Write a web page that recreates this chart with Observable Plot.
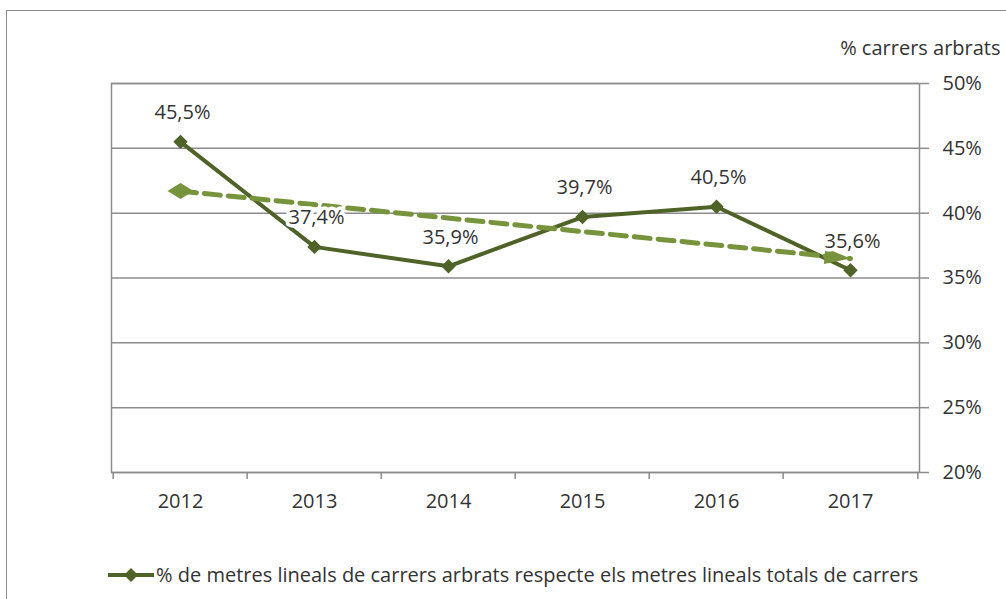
<!DOCTYPE html>
<html>
<head>
<meta charset="utf-8">
<script src="https://cdn.jsdelivr.net/npm/d3@7"></script>
<script src="https://cdn.jsdelivr.net/npm/@observablehq/plot@0.6"></script>
<style>
  html, body { margin: 0; padding: 0; background: #fff; }
  #wrap { position: relative; width: 1006px; height: 599px; overflow: hidden; font-family: "Open Sans", sans-serif; }
  #border { position: absolute; left: 6px; top: 10px; width: 1100px; height: 700px; border-left: 1.5px solid #8c8c8c; border-top: 1.5px solid #8c8c8c; }
  #legend { position: relative; height: 54px; font-size: 20px; color: #333; }
  #legend .item { position: absolute; left: 106px; top: 16px; display: flex; align-items: center; white-space: nowrap; }
</style>
</head>
<body>
<div id="wrap">
  <div id="border"></div>
  <div id="chart"></div>
  <div id="legend"><div class="item">
    <svg width="50" height="20"><line x1="2" y1="10" x2="48" y2="10" stroke="#4F6228" stroke-width="4"/><path d="M25,3 L32,10 L25,17 L18,10 Z" fill="#4F6228"/></svg>
    <span>% de metres lineals de carrers arbrats respecte els metres lineals totals de carrers</span>
  </div></div>
</div>
<script>
const years = ["2012", "2013", "2014", "2015", "2016", "2017"];
const values = [45.5, 37.4, 35.9, 39.7, 40.5, 35.6];
const trendYears = ["2012", "2017"];
const trendValues = [41.7, 36.5];
const yTicks = [20, 25, 30, 35, 40, 45, 50];
const yLabel = "% carrers arbrats";

const data = years.map((year, i) => ({year, value: values[i]}));
const trend = trendYears.map((year, i) => ({year, value: trendValues[i]}));

const W = 1006, H = 545;
const mL = 111, mR = 87, mT = 83, mB = 73;
const half = (W - mL - mR) / years.length / 2;

const mainColor = "#4F6228";
const trendColor = "#77933C";
const gridColor = "#8c8c8c";
const textColor = "#333333";
const fs = 20;

const wideDiamond = {
  draw(ctx) {
    ctx.moveTo(-13, 0); ctx.lineTo(0, -8); ctx.lineTo(13, 0); ctx.lineTo(0, 8); ctx.closePath();
  }
};
const ang = Math.atan2(68, 674);
const rot = (x, y) => [x * Math.cos(ang) - y * Math.sin(ang), x * Math.sin(ang) + y * Math.cos(ang)];
const arrowHead = {
  draw(ctx) {
    const p = [rot(0, 0), rot(-26, -8), rot(-26, 8)];
    ctx.moveTo(p[0][0], p[0][1]); ctx.lineTo(p[1][0], p[1][1]); ctx.lineTo(p[2][0], p[2][1]); ctx.closePath();
  }
};
const fmt = v => v.toFixed(1).replace(".", ",") + "%";

const chart = Plot.plot({
  width: W, height: H,
  marginLeft: mL, marginRight: mR, marginTop: mT, marginBottom: mB,
  style: {fontFamily: "Open Sans, sans-serif", fontSize: fs + "px", color: textColor, background: "transparent"},
  x: {type: "point", domain: years, padding: 0.5, label: null},
  y: {domain: [20, 50], label: null},
  marks: [
    Plot.ruleY(yTicks, {stroke: gridColor, strokeWidth: 1.5}),
    Plot.frame({stroke: gridColor, strokeWidth: 1.5}),
    Plot.axisY({anchor: "right", ticks: yTicks, tickSize: 9, tickPadding: 14, tickFormat: d => d + "%", label: null, stroke: gridColor, strokeWidth: 1.5, fill: textColor, fontSize: fs}),
    Plot.axisX({ticks: years, tickSize: 7, dx: -half, tickFormat: () => "", label: null, stroke: gridColor, strokeWidth: 1.5}),
    Plot.axisX({ticks: ["2017"], tickSize: 7, dx: half, tickFormat: () => "", label: null, stroke: gridColor, strokeWidth: 1.5}),
    Plot.axisX({ticks: years, tickSize: 0, tickPadding: 21, label: null, fill: textColor, fontSize: fs}),
    Plot.line(data, {x: "year", y: "value", stroke: mainColor, strokeWidth: 4}),
    Plot.dot(data, {x: "year", y: "value", symbol: "diamond2", r: 6.5, fill: mainColor}),
    Plot.line(trend, {x: "year", y: "value", stroke: trendColor, strokeWidth: 5, strokeDasharray: "16,8"}),
    Plot.dot(trend.slice(0, 1), {x: "year", y: "value", symbol: wideDiamond, fill: trendColor}),
    Plot.dot(trend.slice(1), {x: "year", y: "value", symbol: arrowHead, fill: trendColor}),
    Plot.text(data, {x: "year", y: "value", text: d => fmt(d.value), dy: -29, dx: 2, fontSize: fs, fill: textColor, stroke: "white", strokeWidth: 7}),
    Plot.text([yLabel], {frameAnchor: "top-right", text: d => d, dx: 81, dy: -43, textAnchor: "end", fontSize: fs, fill: textColor})
  ]
});
document.getElementById("chart").appendChild(chart);
</script>
</body>
</html>
